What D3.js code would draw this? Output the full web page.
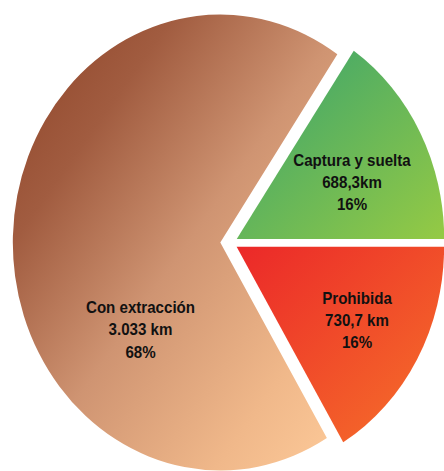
<!DOCTYPE html>
<html>
<head>
<meta charset="utf-8">
<script src="https://cdn.jsdelivr.net/npm/d3@7"></script>
<style>
  html, body { margin: 0; padding: 0; background: #fff; }
  svg { display: block; }
</style>
</head>
<body>
<div id="chart"></div>
<script>
// ---- data ----
const categories = ["Captura y suelta", "Prohibida", "Con extracción"];
const values = [688.3, 730.7, 3033];
const valueLabels = ["688,3km", "730,7 km", "3.033 km"];
const percentLabels = ["16%", "16%", "68%"];

// ---- layout / style ----
const W = 444, H = 471;
const cx = 230.3, cy = 242.8, R = 228, sx = 0.91;
const explode = [8, 8, 11];
const labelPos = [[352, 166], [357, 304], [140.5, 313.3]];
const lineGap = 22.2;
const gradients = [
  [[0, "#36a26f"], [1, "#95ca44"]],
  [[0, "#eb2829"], [1, "#f6722a"]],
  [[0, "#8c4126"], [0.25, "#a15c40"], [0.52, "#cf9472"], [0.81, "#f0b88a"], [1, "#fdca99"]]
];

const svg = d3.select("#chart").append("svg")
  .attr("width", W).attr("height", H);

const defs = svg.append("defs");
gradients.forEach((stops, i) => {
  const g = defs.append("linearGradient")
    .attr("id", "grad" + i)
    .attr("x1", 0).attr("y1", 0).attr("x2", 1).attr("y2", 1);
  stops.forEach(s => g.append("stop").attr("offset", s[0]).attr("stop-color", s[1]));
});

const total = d3.sum(values);
const start = Math.PI / 2 - 2 * Math.PI * values[0] / total;
const pie = d3.pie().sort(null).startAngle(start).endAngle(start + 2 * Math.PI);
const arcs = pie(values);
const arc = d3.arc().innerRadius(0).outerRadius(R);

const g = svg.append("g").attr("transform", `translate(${cx},${cy}) scale(${sx},1)`);

g.selectAll("path").data(arcs).enter().append("path")
  .attr("d", arc)
  .attr("fill", (d, i) => `url(#grad${i})`)
  .attr("transform", (d, i) => {
    const a = (d.startAngle + d.endAngle) / 2;
    return `translate(${Math.sin(a) * explode[i]},${-Math.cos(a) * explode[i]})`;
  });

const labels = svg.selectAll("g.lbl").data(arcs).enter().append("g")
  .attr("class", "lbl")
  .attr("transform", (d, i) => `translate(${labelPos[i][0]},${labelPos[i][1]}) scale(${sx},1)`);

labels.each(function(d, i) {
  const t = d3.select(this).append("text")
    .attr("text-anchor", "middle")
    .attr("font-family", "'Liberation Sans', Arial, sans-serif")
    .attr("font-weight", "bold")
    .attr("font-size", "16.6px")
    .attr("fill", "#111");
  [categories[i], valueLabels[i], percentLabels[i]].forEach((s, k) => {
    t.append("tspan").attr("x", 0).attr("y", k * lineGap).text(s);
  });
});
</script>
</body>
</html>
